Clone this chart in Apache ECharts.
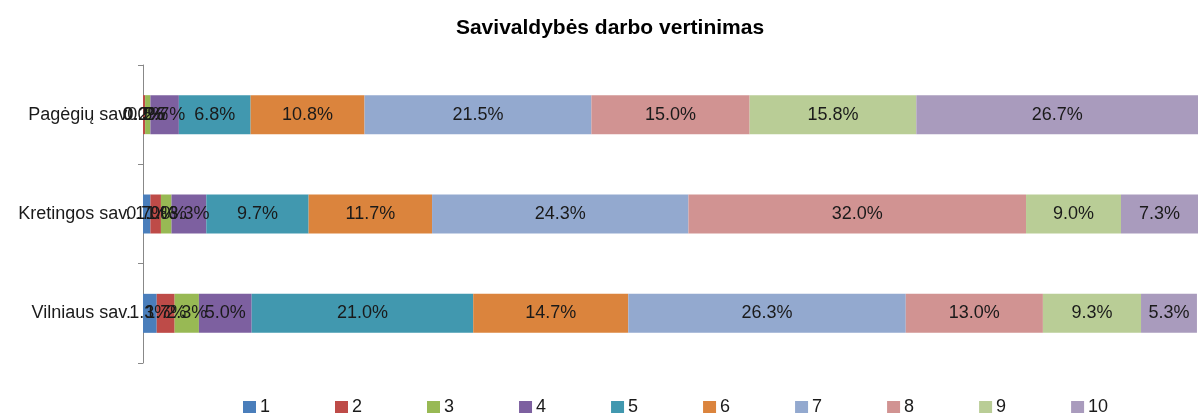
<!DOCTYPE html>
<html>
<head>
<meta charset="utf-8">
<script src="https://cdn.jsdelivr.net/npm/echarts@6/dist/echarts.min.js"></script>
<style>
  html, body { margin: 0; padding: 0; background: #fff; }
  #chart { width: 1198px; height: 414px; }
</style>
</head>
<body>
<div id="chart"></div>
<script>
"use strict";

// categories bottom -> top (Excel draws the first one at the bottom)
var categories = ['Vilniaus sav.', 'Kretingos sav.', 'Pagėgių sav.'];
var seriesNames = ['1', '2', '3', '4', '5', '6', '7', '8', '9', '10'];

// percent shares per score, one array per score, ordered like categories
var s1 = [1.3, 0.7, 0.0];
var s2 = [1.7, 1.0, 0.2];
var s3 = [2.3, 1.0, 0.5];
var s4 = [5.0, 3.3, 2.7];
var s5 = [21.0, 9.7, 6.8];
var s6 = [14.7, 11.7, 10.8];
var s7 = [26.3, 24.3, 21.5];
var s8 = [13.0, 32.0, 15.0];
var s9 = [9.3, 9.0, 15.8];
var s10 = [5.3, 7.3, 26.7];
var values = [s1, s2, s3, s4, s5, s6, s7, s8, s9, s10];

var colors = ['#4A7EBB', '#BE4B48', '#98B954', '#7D60A0', '#4198AF',
              '#DB843D', '#93A9CF', '#D19392', '#B9CD96', '#A99BBD'];

var font = 'Liberation Sans';

var option = {
  animation: false,
  color: colors,
  title: {
    text: 'Savivaldybės darbo vertinimas',
    left: 605,
    textAlign: 'center',
    top: 13,
    textStyle: { fontFamily: font, fontSize: 21, fontWeight: 'bold', color: '#000' }
  },
  legend: {
    data: seriesNames,
    left: 238,
    top: 393,
    itemWidth: 13,
    itemHeight: 12,
    itemGap: 65,
    icon: 'rect',
    textStyle: { fontFamily: font, fontSize: 18, color: '#1a1a1a', padding: [0, 0, 0, -1] }
  },
  grid: { left: 143, right: -10, top: 65, bottom: 51 },
  xAxis: {
    type: 'value',
    min: 0,
    max: 100,
    show: false,
    splitLine: { show: false }
  },
  yAxis: {
    type: 'category',
    data: categories,
    axisLine: { lineStyle: { color: '#888', width: 1 } },
    axisTick: { show: true, length: 5, lineStyle: { color: '#888' } },
    axisLabel: { fontFamily: font, fontSize: 18, color: '#1a1a1a', margin: 12 }
  },
  series: seriesNames.map(function (name, i) {
    return {
      name: name,
      type: 'bar',
      stack: 'total',
      barWidth: 39,
      data: values[i],
      label: {
        show: true,
        position: 'inside',
        fontFamily: font,
        fontSize: 18,
        color: '#1a1a1a',
        formatter: function (p) { return p.value.toFixed(1) + '%'; }
      }
    };
  })
};

var myChart = echarts.init(document.getElementById('chart'));
myChart.setOption(option);
</script>
</body>
</html>
